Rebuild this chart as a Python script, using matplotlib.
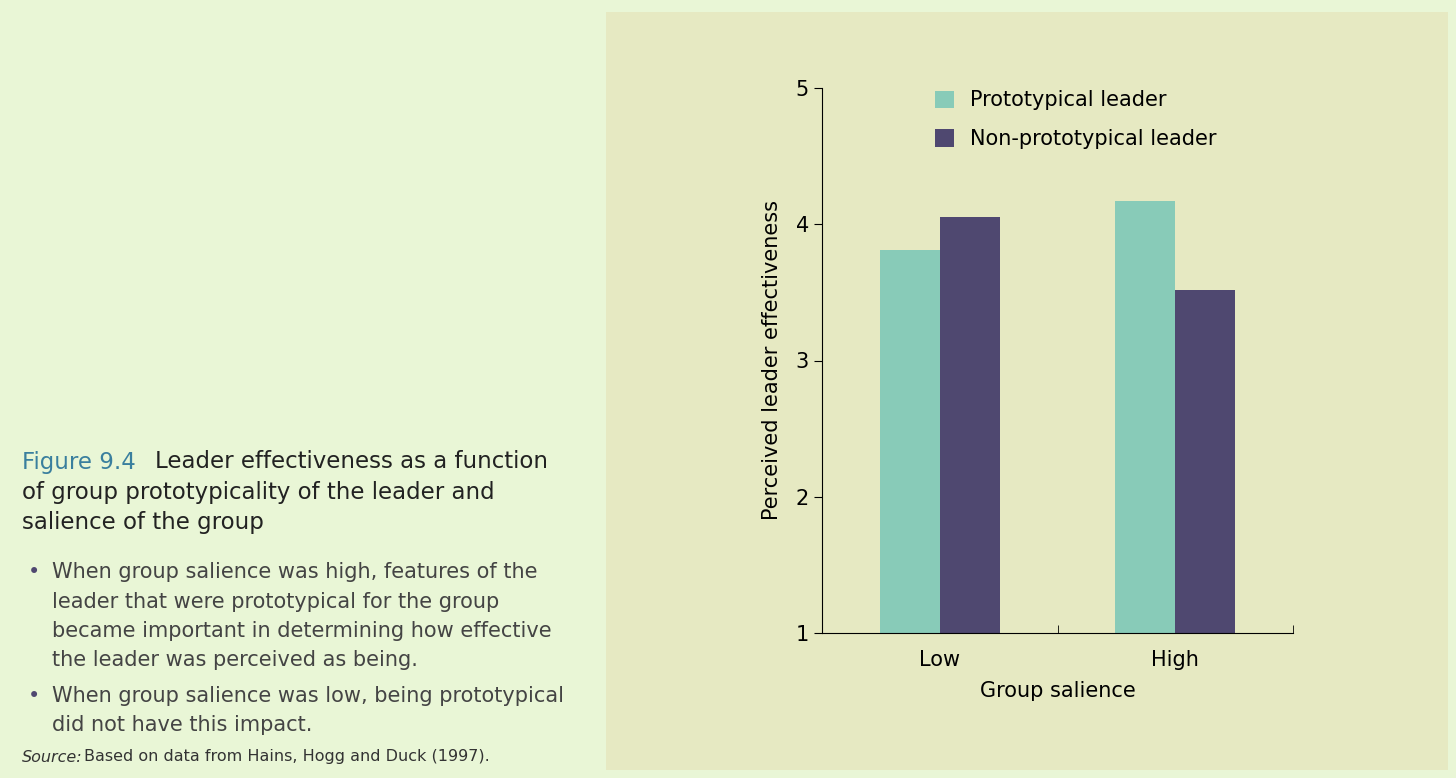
import matplotlib
matplotlib.use("Agg")
import matplotlib.pyplot as plt
import numpy as np
from matplotlib.patches import Rectangle

categories = ["Low", "High"]
proto = [3.81, 4.17]
nonproto = [4.05, 3.52]
yticks = [1, 2, 3, 4, 5]

W, H = 1456, 778
fig = plt.figure(figsize=(W/100, H/100), dpi=100)
fig.patch.set_facecolor("#e9f6d6")
fig.patches.append(Rectangle((606/W, 1-770/H), 842/W, 758/H, transform=fig.transFigure,
                             facecolor="#e6e9c2", edgecolor="none", zorder=-10))

ax = fig.add_axes([822/W, 1-633/H, (1293-822)/W, (633-88)/H])
ax.set_zorder(5)
ax.set_facecolor("none")
x = np.arange(len(categories))
w = 0.255
ax.bar(x - w/2, np.array(proto) - 1, w, bottom=1, color="#88cbb8", label="Prototypical leader")
ax.bar(x + w/2, np.array(nonproto) - 1, w, bottom=1, color="#4f4870", label="Non-prototypical leader")
ax.set_xlim(-0.502, 1.502)
ax.set_ylim(1, 5)
ax.set_yticks(yticks)
ax.set_xticks(x)
ax.set_xticklabels(categories)
ax.set_xticks([0.5, 1.502], minor=True)
ax.tick_params(axis="x", which="major", length=0, labelsize=15, pad=12)
ax.tick_params(axis="x", which="minor", length=6, direction="in")
ax.tick_params(axis="y", length=6, labelsize=15)
for s in ["top", "right"]:
    ax.spines[s].set_visible(False)
ax.set_xlabel("Group salience", fontsize=15, labelpad=8)
ax.set_ylabel("Perceived leader effectiveness", fontsize=15, labelpad=10)
ax.legend(loc="upper left", bbox_to_anchor=(0.2, 1.03), frameon=False, fontsize=15,
          handlelength=0.9, handleheight=0.9, labelspacing=0.9)

fig.text(22/W, 1-462/H, "Figure 9.4", color="#3a7f9e", fontsize=16.5, va="center")
fig.text(155/W, 1-462/H, "Leader effectiveness as a function", color="#222", fontsize=16.5, va="center")
fig.text(22/W, 1-493/H, "of group prototypicality of the leader and", color="#222", fontsize=16.5, va="center")
fig.text(22/W, 1-523/H, "salience of the group", color="#222", fontsize=16.5, va="center")
bul = [("When group salience was high, features of the", 572),
       ("leader that were prototypical for the group", 602),
       ("became important in determining how effective", 631),
       ("the leader was perceived as being.", 660),
       ("When group salience was low, being prototypical", 696),
       ("did not have this impact.", 725)]
for t, y in bul:
    fig.text(52/W, 1-y/H, t, color="#444", fontsize=15, va="center")
for y in (572, 696):
    fig.text(28/W, 1-y/H, "•", color="#4f4870", fontsize=15, va="center")
fig.text(22/W, 1-757/H, "Source:", style="italic", color="#333", fontsize=11.5, va="center")
fig.text(84/W, 1-757/H, "Based on data from Hains, Hogg and Duck (1997).", color="#333", fontsize=11.5, va="center")

fig.savefig("out.png", dpi=100, facecolor=fig.get_facecolor())
